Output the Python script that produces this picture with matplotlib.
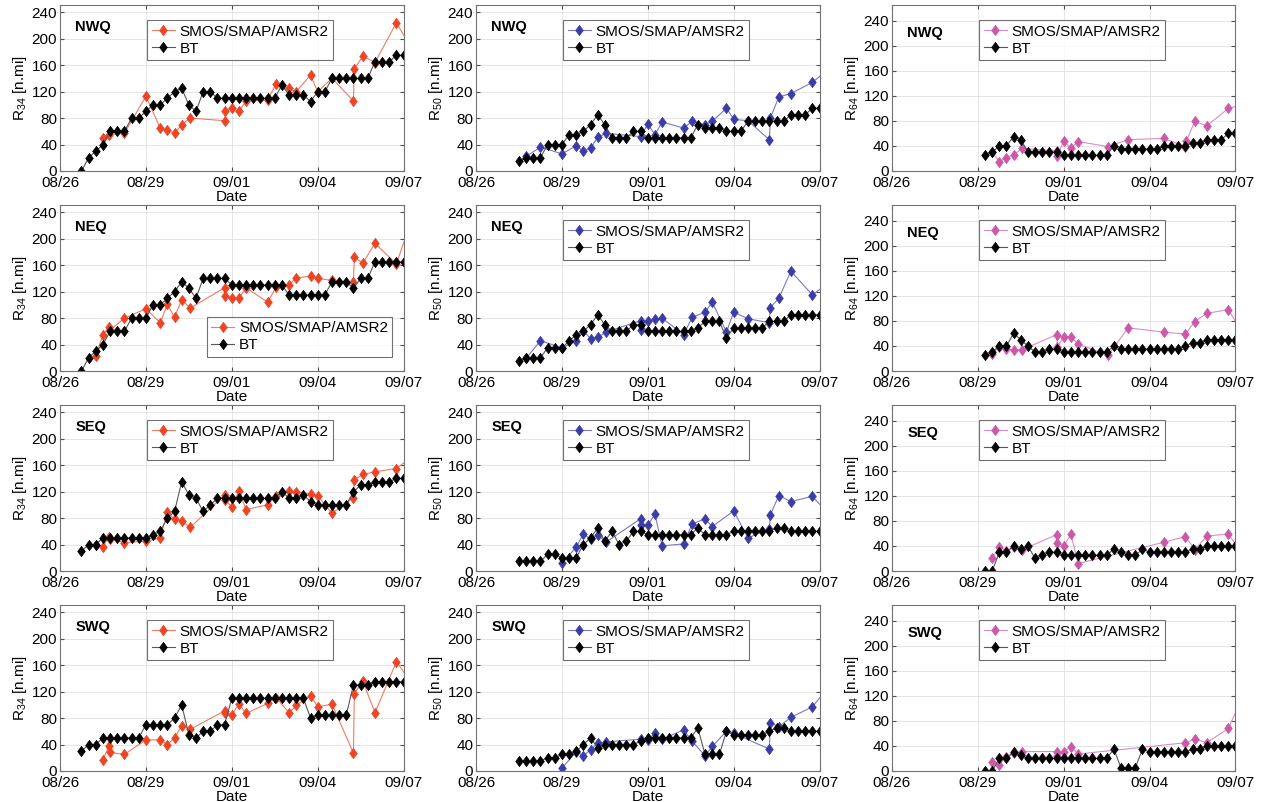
import matplotlib
matplotlib.use('Agg')
import matplotlib.pyplot as plt
import numpy

plt.rcParams['font.family'] = ['Liberation Sans', 'DejaVu Sans']
plt.rcParams['mathtext.default'] = 'regular'
plt.rcParams['legend.handlelength'] = 1.5
plt.rcParams['legend.handletextpad'] = 0.3
plt.rcParams['legend.borderpad'] = 0.3
plt.rcParams['legend.labelspacing'] = 0.2

N = numpy.nan

# x axis is days after 08/26 00Z
tick_days = [0, 3, 6, 9, 12]
tick_labels = ['08/26', '08/29', '09/01', '09/04', '09/07']

quadrants = ['NWQ', 'NEQ', 'SEQ', 'SWQ']
radii = ['34', '50', '64']

# best track start times (6 hourly)
bt_start = {'34': 0.75, '50': 1.5, '64': 3.25}

# satellite overpass times
t_sat = [1.25, 1.5, 1.7, 1.75, 2.25, 3.0, 3.5, 3.75, 4.0, 4.25, 4.55, 5.75, 5.78, 6.0, 6.25,
         6.5, 7.25, 7.55, 8.0, 8.25, 8.75, 9.0, 9.5, 10.25, 10.28, 10.58, 11.0, 11.75, 12.15]

# ---- R34 ----
bt34_nwq = [0, 20, 30, 40, 60, 60, 60, 80, 80, 90, 100, 100, 110, 120, 125, 100, 90, 120, 120, 110,
            110, 110, 110, 110, 110, 110, 110, 110, 130, 115, 115, 115, 105, 120, 120, 140, 140, 140, 140, 140,
            140, 165, 165, 165, 175, 175]
bt34_neq = [0, 20, 30, 40, 60, 60, 60, 80, 80, 80, 100, 100, 110, 120, 135, 125, 110, 140, 140, 140,
            140, 130, 130, 130, 130, 130, 130, 130, 130, 115, 115, 115, 115, 115, 115, 135, 135, 135, 125, 140,
            140, 165, 165, 165, 165, 165]
bt34_seq = [30, 40, 40, 50, 50, 50, 50, 50, 50, 50, 55, 60, 80, 90, 135, 115, 110, 90, 100, 110,
            110, 110, 110, 110, 110, 110, 110, 110, 120, 110, 110, 115, 105, 100, 100, 100, 100, 100, 120, 130,
            130, 135, 135, 135, 140, 140]
bt34_swq = [30, 40, 40, 50, 50, 50, 50, 50, 50, 70, 70, 70, 70, 80, 100, 55, 50, 60, 60, 70,
            70, 110, 110, 110, 110, 110, 110, 110, 110, 110, 110, 110, 80, 85, 85, 85, 85, 85, 130, 130,
            130, 135, 135, 135, 135, 135]
sat34_nwq = [N, 50, 55, N, 57, 113, 65, 62, 57, 70, 80, 76, 90, 95, 90, 106, 107, 132, 125, 120,
             145, 120, 140, 106, 154, 174, 164, 224, 195]
sat34_neq = [23, 55, 66, 62, 80, 94, 73, 101, 81, 108, 95, 126, 113, 110, 110, 126, 104, 127, 130, 141,
             143, 140, 137, 135, 172, 163, 193, 162, 212]
sat34_seq = [40, 37, 52, 48, 43, 45, 50, 89, 78, 75, 66, 115, 107, 97, 121, 93, 100, 114, 121, 120,
             116, 114, 87, 111, 138, 146, 150, 155, 168]
sat34_swq = [N, 17, 37, 28, 25, 47, 47, 40, 50, 68, 63, 91, 87, 85, 101, 87, 102, 111, 88, 99,
             114, 97, 101, 27, 117, 136, 88, 165, 141]

# ---- R50 ----
bt50_nwq = [15, 20, 20, 20, 40, 40, 40, 55, 55, 60, 70, 85, 70, 50, 50, 50, 60, 60, 50, 50,
            50, 50, 50, 50, 50, 70, 65, 65, 65, 60, 60, 60, 75, 75, 75, 75, 75, 75, 85, 85,
            85, 95, 95]
bt50_neq = [15, 20, 20, 20, 35, 35, 35, 45, 55, 60, 70, 85, 70, 60, 60, 60, 70, 70, 60, 60,
            60, 60, 60, 60, 60, 65, 75, 75, 75, 50, 65, 65, 65, 65, 65, 75, 75, 75, 85, 85,
            85, 85, 85]
bt50_seq = [15, 15, 15, 15, 25, 25, 20, 20, 20, 40, 50, 65, 45, 60, 40, 45, 60, 60, 55, 55,
            55, 55, 55, 55, 55, 65, 55, 55, 55, 55, 60, 60, 60, 60, 60, 60, 65, 65, 60, 60,
            60, 60, 60]
bt50_swq = [15, 15, 15, 15, 20, 20, 25, 25, 30, 40, 50, 35, 40, 40, 40, 40, 40, 45, 50, 50,
            50, 50, 50, 50, 50, 65, 25, 25, 25, 60, 55, 55, 55, 55, 55, 60, 65, 65, 60, 60,
            60, 60, 60]
sat50_nwq = [N, N, N, 22, 36, 26, 38, 30, 34, 51, 57, 52, N, 71, 55, 74, 65, 75, 70, 75,
             95, 78, 76, 47, 80, 112, 117, 134, 148]
sat50_neq = [N, N, N, 19, 46, 35, 45, 61, 49, 51, 59, 76, 62, 76, 78, 80, 55, 81, 89, 104,
             59, 89, 79, 73, 96, 110, 151, 115, 128]
sat50_seq = [N, N, N, N, N, 12, 36, 56, 48, 54, 44, 79, 69, 69, 86, 38, 41, 71, 79, 67,
             N, 91, 50, 64, 85, 114, 105, 113, 94]
sat50_swq = [N, N, N, N, N, 4, 29, 23, 32, 42, 44, 48, N, 47, 57, 48, 62, 45, 23, 37,
             60, 57, N, 33, 73, 67, 81, 97, 118]

# ---- R64 ----
bt64_nwq = [25, 30, 40, 40, 55, 50, 30, 30, 30, 30, 30, 25, 25, 25, 25, 25, 25, 25, 40, 35,
            35, 35, 35, 35, 35, 40, 40, 40, 40, 45, 45, 50, 50, 50, 60, 60]
bt64_neq = [25, 30, 40, 40, 60, 50, 40, 30, 30, 35, 35, 30, 30, 30, 30, 30, 30, 30, 40, 35,
            35, 35, 35, 35, 35, 35, 35, 35, 40, 45, 45, 50, 50, 50, 50, 50]
bt64_seq = [0, 0, 30, 30, 40, 35, 40, 20, 25, 30, 30, 25, 25, 25, 25, 25, 25, 25, 35, 30,
            25, 25, 35, 30, 30, 30, 30, 30, 30, 35, 35, 40, 40, 40, 40, 40]
bt64_swq = [0, 0, 20, 20, 30, 25, 20, 20, 20, 20, 20, 20, 20, 20, 20, 20, 20, 20, 35, 5,
            5, 5, 35, 30, 30, 30, 30, 30, 30, 35, 35, 40, 40, 40, 40, 40]
sat64_nwq = [N, N, N, N, N, N, 30, 15, 21, 26, 36, 32, 24, 48, 36, 47, N, 39, N, 50,
             N, N, 52, 39, 48, 79, 72, 100, 105]
sat64_neq = [N, N, N, N, N, N, 27, 39, 35, 34, 34, 58, 39, 55, 55, 43, N, 25, N, 69,
             N, N, 62, 59, N, 79, 92, 98, 68]
sat64_seq = [N, N, N, N, N, N, 20, 39, 32, 39, 34, 58, 45, 40, 59, 12, N, N, N, N,
             N, N, 46, 55, N, 34, 56, 59, 33]
sat64_swq = [N, N, N, N, N, N, 15, 10, 23, 29, 31, 31, 24, 31, 39, 27, N, N, N, N,
             N, N, N, 45, N, 51, 45, 68, 108]

bt_data = {'34': [bt34_nwq, bt34_neq, bt34_seq, bt34_swq],
           '50': [bt50_nwq, bt50_neq, bt50_seq, bt50_swq],
           '64': [bt64_nwq, bt64_neq, bt64_seq, bt64_swq]}
sat_data = {'34': [sat34_nwq, sat34_neq, sat34_seq, sat34_swq],
            '50': [sat50_nwq, sat50_neq, sat50_seq, sat50_swq],
            '64': [sat64_nwq, sat64_neq, sat64_seq, sat64_swq]}

sat_color = {'34': '#ee4424', '50': '#3c3ca8', '64': '#cc58aa'}
sat_line = {'34': '#f27a62', '50': '#7a7ac4', '64': '#dc8cc4'}
y_top = {'34': 251, '50': 251, '64': 265}

# tall diamond like the MATLAB one
diamond = [(0, 1), (0.74, 0), (0, -1), (-0.74, 0), (0, 1)]

fig = plt.figure(figsize = (12.69, 8.02), dpi = 100)
col_left = [0.0473, 0.3751, 0.7029]
row_bottom = [0.7868, 0.5374, 0.2880, 0.0387]

t_sat = numpy.array(t_sat)
for i, quad in enumerate(quadrants):
    for j, r in enumerate(radii):
        ax = fig.add_axes([col_left[j], row_bottom[i], 0.2707, 0.2070])

        sv = numpy.array(sat_data[r][i], dtype = float)
        ok = ~numpy.isnan(sv)
        bv = numpy.array(bt_data[r][i], dtype = float)
        bt_t = bt_start[r] + 0.25 * numpy.arange(len(bv))

        h1, = ax.plot(t_sat[ok], sv[ok], '-', color = sat_line[r], lw = 0.8,
                      marker = diamond, ms = 7.4, mfc = sat_color[r], mec = sat_color[r], mew = 0.5)
        h2, = ax.plot(bt_t, bv, '-', color = '0.35', lw = 0.8,
                      marker = diamond, ms = 7.4, mfc = 'black', mec = 'black', mew = 0.5)

        ax.set_xlim(0, 12)
        ax.set_ylim(0, y_top[r])
        ax.set_xticks(tick_days)
        ax.set_xticklabels(tick_labels)
        ax.set_yticks(range(0, 241, 40))
        ax.tick_params(direction = 'in', top = True, right = True, length = 3, labelsize = 11,
                       pad = 2, color = '0.3')
        ax.tick_params(axis = 'x', pad = 3.5)
        ax.grid(True, color = '0.88', lw = 0.6)
        ax.set_axisbelow(True)
        for sp in ax.spines.values():
            sp.set_color('0.45')
            sp.set_linewidth(0.8)

        ax.set_xlabel('Date', fontsize = 11, labelpad = 0)
        ax.set_ylabel('R$_{' + r + '}$ [n.mi]', fontsize = 11, labelpad = 2)

        ty = 0.83 if r == '64' else 0.87
        ax.text(0.044, ty, quad, transform = ax.transAxes, fontsize = 10.5, fontweight = 'bold',
                va = 'center', ha = 'left')

        if quad == 'NEQ' and r == '34':
            leg = ax.legend([h1, h2], ['SMOS/SMAP/AMSR2', 'BT'], loc = 'lower right',
                            bbox_to_anchor = (0.99, 0.04), fontsize = 11)
        else:
            leg = ax.legend([h1, h2], ['SMOS/SMAP/AMSR2', 'BT'], loc = 'upper left',
                            bbox_to_anchor = (0.232, 0.955), fontsize = 11)
        leg.get_frame().set_edgecolor('0.3')
        leg.get_frame().set_linewidth(0.8)
        leg.get_frame().set_boxstyle('square', pad = 0)

fig.savefig('out.png', dpi = 100)
